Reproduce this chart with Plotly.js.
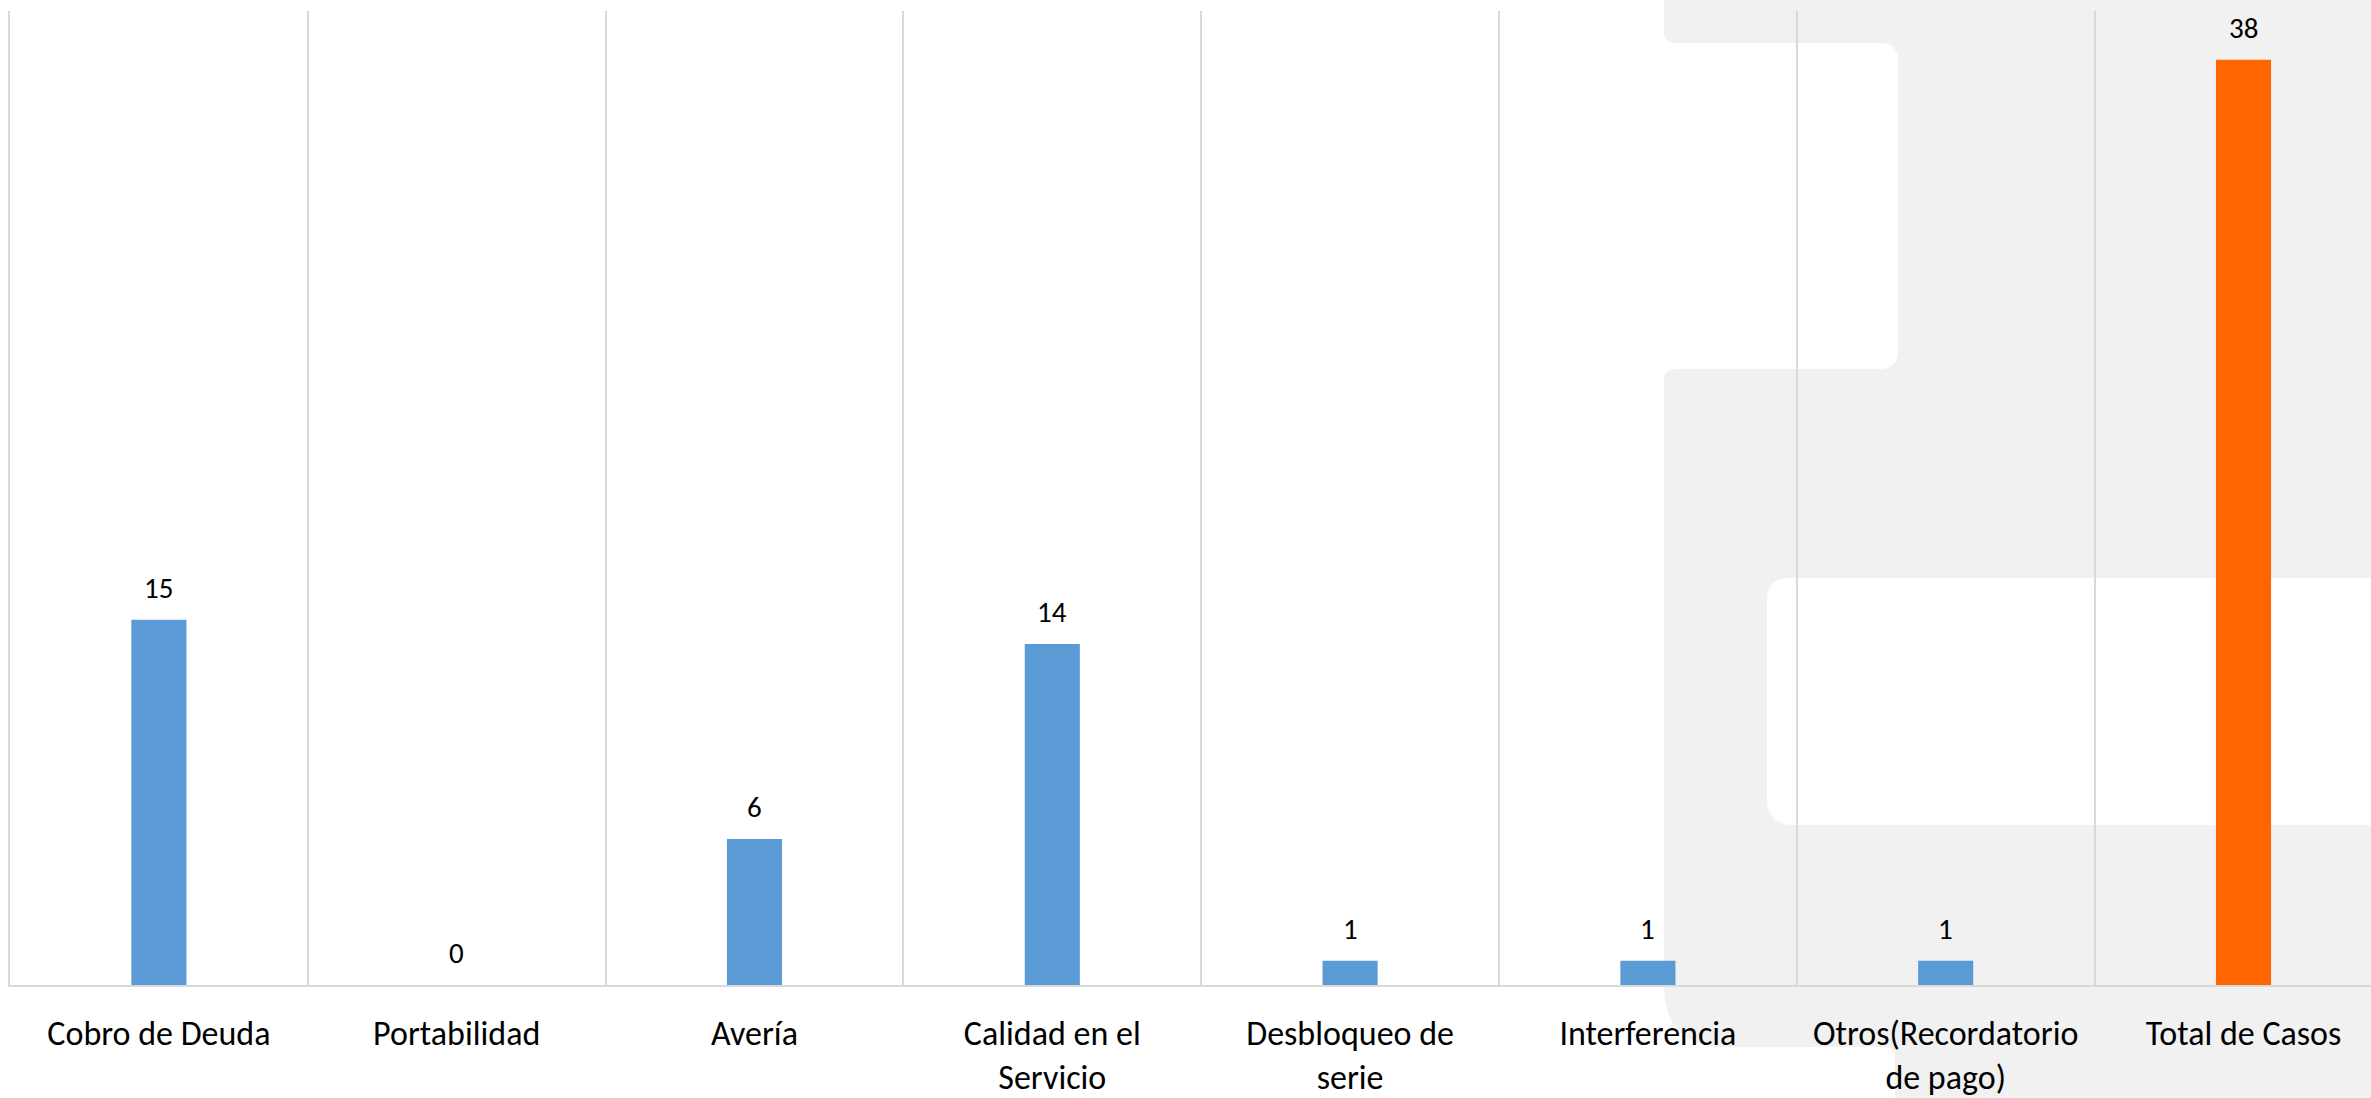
<!DOCTYPE html>
<html>
<head>
<meta charset="utf-8">
<script src="https://cdn.plot.ly/plotly-3.0.1.min.js"></script>
<style>html,body{margin:0;padding:0;background:#fff;}#chart{width:2371px;height:1098px;}</style>
</head>
<body>
<div id="chart"></div>
<script>
// ---- data ----
const categories = [
  "Cobro de Deuda",
  "Portabilidad",
  "Avería",
  "Calidad en el<br>Servicio",
  "Desbloqueo de<br>serie",
  "Interferencia",
  "Otros(Recordatorio<br>de pago)",
  "Total de Casos"
];
const values = [15, 0, 6, 14, 1, 1, 1, 38];
const isTotal = [false, false, false, false, false, false, false, true];

// ---- style ----
const BLUE = "#5b9bd5";
const ORANGE = "#ff6600";
const GRID = "#d9d9d9";
const FONT = "Carlito, Lato, 'Open Sans', sans-serif";

const W = 2371, H = 1098;
const ML = 10, MR = 0, MT = 11, MB = 113;
const PL = ML, PR = W - MR, PT = MT, PB = H - MB;
function px(x){ return ((x - PL) / (PR - PL)).toFixed(5); }
function py(y){ return ((PB - y) / (PB - PT)).toFixed(5); }
function P(x, y){ return px(x) + "," + py(y); }

// decorative grey watermark shape (pixel geometry -> paper coords)
const bgPath =
  "M" + P(1664, 0) + " L" + P(2400, 0) + " L" + P(2400, 578) +
  " L" + P(1789, 578) + " Q" + P(1767, 578) + " " + P(1767, 600) +
  " L" + P(1767, 798) + " Q" + P(1767, 825) + " " + P(1794, 825) +
  " L" + P(2400, 825) + " L" + P(2400, 1100) + " L" + P(1895, 1100) +
  " L" + P(1895, 1056) + " Q" + P(1895, 1047) + " " + P(1885, 1047) +
  " L" + P(1726, 1047) + " Q" + P(1664, 1047) + " " + P(1664, 985) +
  " L" + P(1664, 381) + " Q" + P(1664, 369) + " " + P(1676, 369) +
  " L" + P(1880, 369) + " Q" + P(1898, 369) + " " + P(1898, 351) +
  " L" + P(1898, 61) + " Q" + P(1898, 43) + " " + P(1880, 43) +
  " L" + P(1676, 43) + " Q" + P(1664, 43) + " " + P(1664, 31) + " Z";

const trace = {
  type: "bar",
  x: categories,
  y: values,
  width: 0.185,
  marker: { color: isTotal.map(t => t ? ORANGE : BLUE), line: { width: 0 } },
  hoverinfo: "x+y"
};

const annotations = categories.map((c, i) => ({
  x: c, y: values[i], xref: "x", yref: "y",
  text: String(values[i]),
  showarrow: false,
  yanchor: "bottom",
  yshift: 12,
  font: { family: FONT, size: 29, color: "#000" }
}));

const layout = {
  width: W, height: H,
  margin: { l: ML, r: MR, t: MT, b: MB, pad: 0 },
  paper_bgcolor: "#ffffff",
  plot_bgcolor: "rgba(0,0,0,0)",
  showlegend: false,
  bargap: 0.8,
  xaxis: {
    type: "category",
    range: [-0.5, -0.5 + (PR - PL) / 297.8],
    tickson: "boundaries",
    showgrid: true, gridcolor: GRID, gridwidth: 2,
    showline: true, linecolor: GRID, linewidth: 2,
    ticks: "",
    ticklabelstandoff: 17,
    tickfont: { family: FONT, size: 34, color: "#000" },
    fixedrange: true
  },
  yaxis: {
    range: [0, 40],
    showgrid: false, zeroline: false,
    showticklabels: false, ticks: "",
    showline: true, linecolor: GRID, linewidth: 2,
    fixedrange: true
  },
  shapes: [{
    type: "path", xref: "paper", yref: "paper",
    path: bgPath,
    fillcolor: "#f0f1f0", line: { width: 0 },
    layer: "below"
  }],
  annotations: annotations
};

Plotly.newPlot("chart", [trace], layout, { displayModeBar: false, staticPlot: true });
</script>
</body>
</html>
